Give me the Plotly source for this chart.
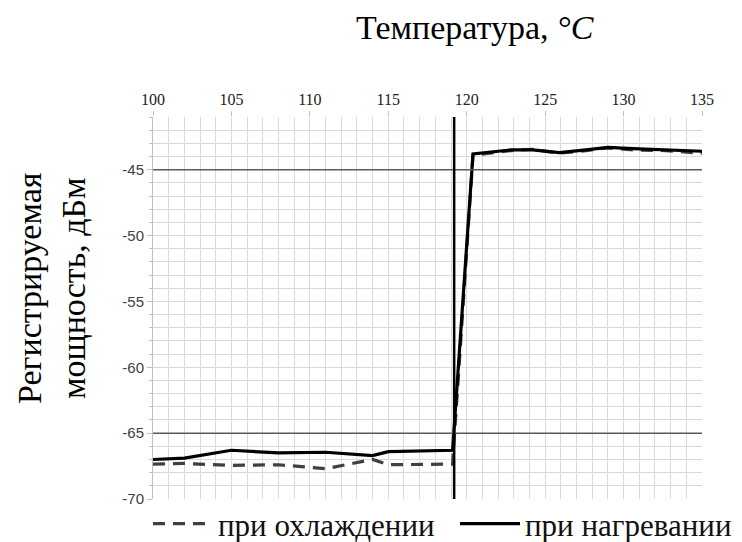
import plotly.graph_objects as go

# Data
heat_x = [100, 102, 105, 108, 111, 114, 115, 119.1, 120.4, 122.8, 124.2, 125.9, 127.6, 129.0, 130.6, 132.7, 135]
heat_y = [-67.0, -66.9, -66.3, -66.5, -66.45, -66.7, -66.4, -66.3, -43.8, -43.5, -43.5, -43.7, -43.5, -43.3, -43.4, -43.5, -43.6]

cool_x = [100, 102, 105, 108, 111, 114, 115, 119.1, 120.4, 122.8, 124.2, 125.9, 127.6, 129.0, 130.6, 132.7, 135]
cool_y = [-67.35, -67.3, -67.45, -67.4, -67.7, -67.0, -67.4, -67.35, -43.9, -43.55, -43.45, -43.75, -43.55, -43.35, -43.5, -43.55, -43.75]

transition_temp = 119.2
ref_levels = [-45, -65]

x_ticks = [100, 105, 110, 115, 120, 125, 130, 135]
y_ticks = [-70, -65, -60, -55, -50, -45]
y_tick_labels = ["-70", "-65", "-60", "-55", "-50", "-45"]

serif = "Liberation Serif"
sans = "Liberation Sans"

W, H = 734, 534  # page body has an 8px margin

fig = go.Figure()
fig.add_trace(go.Scatter(x=cool_x, y=cool_y, mode="lines", name="при охлаждении",
                         legend="legend",
                         line=dict(color="#404040", width=3.2, dash="12px,8px")))
fig.add_trace(go.Scatter(x=heat_x, y=heat_y, mode="lines", name="при нагревании",
                         legend="legend2",
                         line=dict(color="#000000", width=3.2)))

for lv in ref_levels:
    fig.add_shape(type="line", xref="paper", x0=0, x1=1, yref="y", y0=lv, y1=lv,
                  line=dict(color="#5a5a5a", width=1.5), layer="above")
fig.add_shape(type="line", xref="x", x0=transition_temp, x1=transition_temp,
              yref="paper", y0=0, y1=1, line=dict(color="#000000", width=2.5))

legend_common = dict(orientation="h", xref="container", yref="container",
                     xanchor="left", yanchor="middle",
                     font=dict(family=serif, size=31, color="#111"), itemwidth=60,
                     bgcolor="rgba(0,0,0,0)")

fig.update_layout(
    width=W, height=H,
    margin=dict(l=145, r=40, t=109, b=43, autoexpand=False),
    paper_bgcolor="white", plot_bgcolor="white",
    showlegend=True,
    legend=dict(x=140 / W, y=1 - 516 / H, **legend_common),
    legend2=dict(x=447 / W, y=1 - 516 / H, **legend_common),
    xaxis=dict(range=[100, 135], side="top", tickvals=x_ticks,
               tickfont=dict(family=serif, size=16, color="#222"),
               showgrid=True, gridcolor="#d9d9d9", gridwidth=1,
               minor=dict(dtick=1, showgrid=True, gridcolor="#d9d9d9", gridwidth=1),
               ticks="outside", ticklen=5, tickcolor="#bfbfbf",
               showline=False, zeroline=False, fixedrange=True, automargin=False),
    yaxis=dict(range=[-70, -41], tickvals=y_ticks, ticktext=y_tick_labels,
               tickfont=dict(family=sans, size=15, color="#404040"),
               showgrid=True, gridcolor="#d9d9d9", gridwidth=1,
               minor=dict(dtick=1, showgrid=True, gridcolor="#d9d9d9", gridwidth=1,
                          ticks="outside", ticklen=3, tickcolor="#bfbfbf"),
               ticks="outside", ticklen=5, tickcolor="#bfbfbf",
               showline=True, linecolor="#bfbfbf", linewidth=1,
               zeroline=False, fixedrange=True, automargin=False),
)

fig.add_annotation(text="Температура, <i>°C</i>", xref="paper", yref="paper",
                   x=(467 - 145) / 549, y=1, yshift=109 - 19, xanchor="center", yanchor="middle",
                   showarrow=False, font=dict(family=serif, size=34, color="#000"))
fig.add_annotation(text="Регистрируемая<br>мощность, дБм", xref="paper", yref="paper",
                   x=0, xshift=-102, y=0.5, yshift=20, textangle=-90,
                   xanchor="center", yanchor="middle", showarrow=False,
                   font=dict(family=serif, size=34, color="#000"))

fig.write_html("out.html")
